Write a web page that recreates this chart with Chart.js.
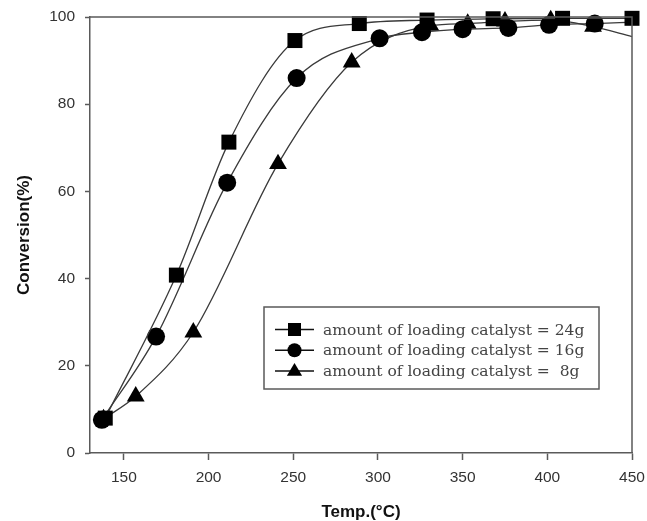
<!DOCTYPE html>
<html>
<head>
<meta charset="utf-8">
<script src="https://cdn.jsdelivr.net/npm/chart.js@4.4.0/dist/chart.umd.min.js"></script>
<style>
  html, body { margin: 0; padding: 0; background: #fff; }
  #wrap { width: 647px; height: 521px; }
</style>
</head>
<body>
<div id="wrap"><canvas id="chart"></canvas></div>
<script>
// values: temperature (°C) vs conversion (%)
const temp24 = [139, 181, 212, 251, 289, 329, 368, 409, 450];
const conv24 = [8.0, 40.8, 71.3, 94.6, 98.5, 99.3, 99.6, 99.7, 99.7];

const temp16 = [137, 169, 211, 252, 301, 326, 350, 377, 401, 428];
const conv16 = [7.6, 26.7, 62.0, 86.0, 95.1, 96.5, 97.2, 97.5, 98.2, 98.5];

const temp8 = [138, 157, 191, 241, 284.5, 331, 353, 375, 402, 427];
const conv8 = [7.8, 13.0, 27.7, 66.3, 89.6, 98.0, 98.5, 99.0, 99.3, 97.8];

// where the fitted curves end at the right edge (no marker there)
const curveEnd16 = [450, 98.8];
const curveEnd8 = [450, 95.5];

const xTicks = [150, 200, 250, 300, 350, 400, 450];
const seriesLabels = [
  'amount of loading catalyst = 24g',
  'amount of loading catalyst = 16g',
  'amount of loading catalyst =  8g'
];

const AXIS = '#5a5a5a';
const LINE = '#3a3a3a';

function toPoints(xs, ys, end) {
  const pts = xs.map((x, i) => ({ x: x, y: ys[i] }));
  if (end) pts.push({ x: end[0], y: end[1] });
  return pts;
}

function radii(n, r, hasEnd) {
  const out = new Array(n).fill(r);
  if (hasEnd) out.push(0);
  return out;
}

function series(label, pts, style, r) {
  return {
    label,
    data: pts,
    showLine: true,
    cubicInterpolationMode: 'monotone',
    borderColor: LINE,
    borderWidth: 1.3,
    pointStyle: style,
    pointRadius: r,
    pointHoverRadius: r,
    pointBackgroundColor: '#000',
    pointBorderColor: '#000',
    pointBorderWidth: 0,
    clip: false
  };
}

// top and right edges of the plot frame
const frame = {
  id: 'frame',
  afterDraw(chart) {
    const { ctx, chartArea: a } = chart;
    ctx.save();
    ctx.strokeStyle = AXIS;
    ctx.lineWidth = 1.5;
    ctx.beginPath();
    ctx.moveTo(a.left, a.top);
    ctx.lineTo(a.right, a.top);
    ctx.lineTo(a.right, a.bottom);
    ctx.stroke();
    ctx.restore();
  }
};

function marker(ctx, style, x, y, r) {
  ctx.beginPath();
  if (style === 'rect') {
    ctx.rect(x - r, y - r, 2 * r, 2 * r);
  } else if (style === 'circle') {
    ctx.arc(x, y, r, 0, Math.PI * 2);
  } else {
    ctx.moveTo(x, y - r);
    ctx.lineTo(x + r * 0.95, y + r * 0.6);
    ctx.lineTo(x - r * 0.95, y + r * 0.6);
    ctx.closePath();
  }
  ctx.fill();
}

// boxed legend inside the plot
const legendBox = {
  id: 'legendBox',
  afterDraw(chart) {
    const { ctx, chartArea: a } = chart;
    const left = a.left + 174, top = a.top + 290, w = 335, h = 82;
    ctx.save();
    ctx.fillStyle = '#fff';
    ctx.fillRect(left, top, w, h);
    ctx.strokeStyle = AXIS;
    ctx.lineWidth = 1.5;
    ctx.strokeRect(left, top, w, h);

    const styles = ['rect', 'circle', 'triangle'];
    const sizes = [6.5, 7, 8];
    ctx.font = '15.5px "DejaVu Serif", serif';
    ctx.textBaseline = 'middle';
    chart.data.datasets.forEach((ds, i) => {
      const cy = top + 22.5 + i * 20.7;
      ctx.strokeStyle = '#111';
      ctx.lineWidth = 1.5;
      ctx.beginPath();
      ctx.moveTo(left + 11, cy);
      ctx.lineTo(left + 50, cy);
      ctx.stroke();
      ctx.fillStyle = '#000';
      marker(ctx, styles[i], left + 30.5, cy, sizes[i]);
      ctx.fillStyle = '#444';
      ctx.fillText(ds.label, left + 59, cy + 1);
    });
    ctx.restore();
  }
};

new Chart(document.getElementById('chart'), {
  type: 'scatter',
  data: {
    datasets: [
      series(seriesLabels[0], toPoints(temp24, conv24), 'rect', radii(temp24.length, 10.6, false)),
      series(seriesLabels[1], toPoints(temp16, conv16, curveEnd16), 'circle', radii(temp16.length, 9, true)),
      series(seriesLabels[2], toPoints(temp8, conv8, curveEnd8), 'triangle', radii(temp8.length, 10.3, true))
    ]
  },
  options: {
    responsive: true,
    maintainAspectRatio: false,
    animation: false,
    events: [],
    layout: { padding: { top: 17, right: 15, left: 0, bottom: 0 } },
    plugins: {
      legend: { display: false },
      tooltip: { enabled: false }
    },
    scales: {
      x: {
        type: 'linear',
        min: 130,
        max: 450,
        afterBuildTicks: s => { s.ticks = xTicks.map(v => ({ value: v })); },
        afterFit: s => { s.height = 68; s.paddingLeft = 0; s.paddingRight = 0; },
        border: { color: AXIS, width: 1.5 },
        grid: { drawOnChartArea: false, drawTicks: true, tickLength: 7, tickWidth: 1.5, tickColor: AXIS },
        ticks: { color: '#333', padding: 8, maxRotation: 0, font: { family: '"Liberation Sans", Arial, sans-serif', size: 15.5 } },
        title: {
          display: true,
          text: 'Temp.(°C)',
          color: '#111',
          padding: { top: 0, bottom: 0 },
          font: { family: '"Liberation Sans", Arial, sans-serif', size: 17, weight: 'bold', lineHeight: 1 }
        }
      },
      y: {
        min: 0,
        max: 100,
        afterFit: s => { s.width = 90; s.paddingTop = 0; s.paddingBottom = 0; },
        border: { color: AXIS, width: 1.5 },
        grid: { drawOnChartArea: false, drawTicks: true, tickLength: 5, tickWidth: 1.5, tickColor: AXIS },
        ticks: { stepSize: 20, color: '#333', padding: 10, font: { family: '"Liberation Sans", Arial, sans-serif', size: 15.5 } },
        title: {
          display: true,
          text: 'Conversion(%)',
          color: '#111',
          padding: { top: 16, bottom: 0 },
          font: { family: '"Liberation Sans", Arial, sans-serif', size: 17, weight: 'bold', lineHeight: 1 }
        }
      }
    }
  },
  plugins: [frame, legendBox]
});
</script>
</body>
</html>
